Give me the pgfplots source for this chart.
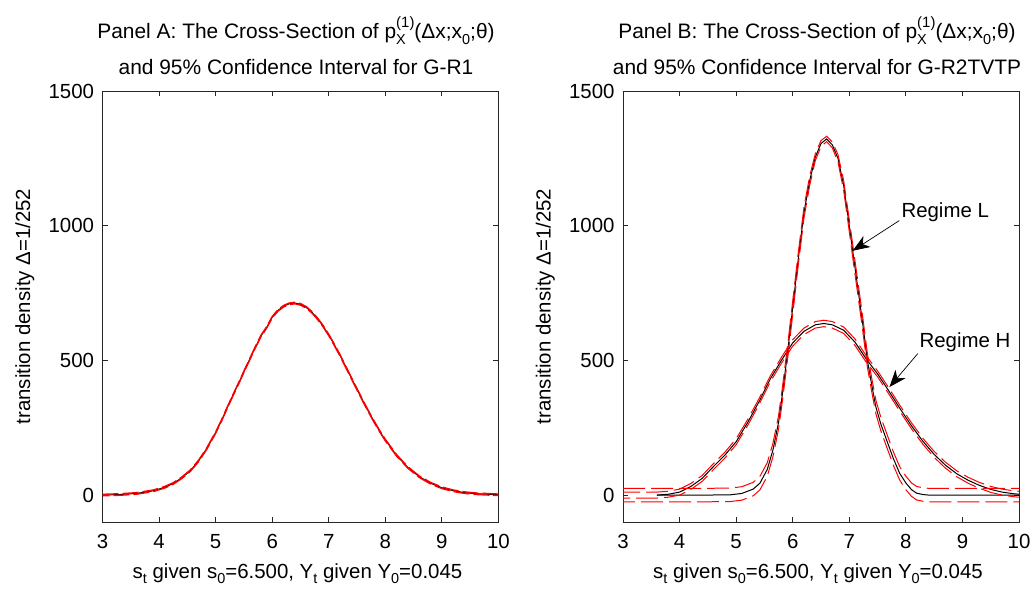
\documentclass[border=0pt]{standalone}
\usepackage{fontspec}
\setmainfont{Liberation Sans}
\usepackage{pgfplots}
\pgfplotsset{compat=1.18}
\usepackage{pgfplotstable}
\usetikzlibrary{arrows.meta}

\newcommand\fs{\fontsize{20.5}{24}\selectfont}
\newcommand\ft{\fontsize{21}{24}\selectfont}
\newcommand\sub[1]{\raisebox{-0.28em}{\fontsize{14.5}{14.5}\selectfont #1}}
\newcommand\sups[1]{\raisebox{0.55em}{\fontsize{15}{15}\selectfont #1}}

% Panel A: G-R1 mean (m) and 95% CI (u,l)
\pgfplotstableread{
x m u l
3.0 0 3 -3
3.3 2 5 -1
3.6 6 9 3
3.9 16 19 13
4.1 29 32 26
4.25 43 46 40
4.4 64 67 61
4.55 90 93 87
4.7 127 130 124
4.85 175 178 172
5.0 232 235 229
5.1 275 278 272
5.2 322 325 319
5.3 368 371 365
5.4 412 415 409
5.5 458 461 455
5.6 503 506 500
5.7 548 551 545
5.8 590 593 587
5.9 622 625 619
6.0 660 663 657
6.1 685 688 682
6.2 701 704 698
6.3 710 713 707
6.4 713 716 710
6.5 708 711 705
6.6 697 700 694
6.7 679 682 676
6.8 655 658 652
6.9 627 630 624
7.0 594 597 591
7.1 557 560 554
7.2 518 521 515
7.3 476 479 473
7.4 434 437 431
7.5 392 395 389
7.6 351 354 348
7.7 311 314 308
7.8 273 276 270
7.9 237 240 234
8.0 204 207 201
8.2 147 150 144
8.4 102 105 99
8.6 68 71 65
8.8 44 47 41
9.0 27 30 24
9.2 16 19 13
9.4 9 12 6
9.6 5 8 2
9.8 3 6 0
10.0 1 4 -2
}\tabA

% Panel B: Regime L
\pgfplotstableread{
x m u l
3.0 0 25 -25
3.6 0 25 -25
4.0 0 25 -25
4.5 0 25 -25
4.9 1 26 -24
5.1 6 31 -19
5.3 22 47 -3
5.42 44 69 19
5.55 95 120 70
5.65 167 192 142
5.75 270 295 245
5.82 378 403 353
5.92 549 574 524
6.0 696 721 671
6.1 880 903 857
6.2 1050 1070 1030
6.3 1167 1184 1150
6.4 1255 1268 1242
6.5 1305 1316 1294
6.6 1322 1332 1312
6.7 1300 1311 1289
6.8 1250 1264 1236
6.9 1150 1168 1132
7.0 1000 1022 978
7.06 907 931 883
7.15 770 795 745
7.23 648 673 623
7.32 500 525 475
7.4 405 430 380
7.47 327 352 302
7.56 262 287 237
7.66 204 229 179
7.78 135 160 110
7.89 81 106 56
8.0 45 70 20
8.1 20 45 -5
8.19 7 32 -18
8.3 2 27 -23
8.4 0 25 -25
9.0 0 25 -25
10.0 0 25 -25
}\tabL

% Panel B: Regime H
\pgfplotstableread{
x m u l
3.0 0 11 -11
3.3 0 11 -11
3.6 0 11 -11
3.8 3 14 -8
4.0 11 22 0
4.2 32 43 21
4.4 62 73 51
4.6 106 117 95
4.8 148 159 137
5.0 198 209 187
5.2 268 279 257
5.4 345 356 334
5.6 430 441 419
5.8 500 511 489
6.0 565 577 553
6.2 608 620 596
6.4 632 644 620
6.55 637 649 625
6.7 632 644 620
6.9 612 624 600
7.1 568 580 556
7.3 505 517 493
7.5 450 461 439
7.7 386 397 375
7.9 320 331 309
8.1 257 268 246
8.3 200 211 189
8.5 151 162 140
8.7 111 122 100
8.9 79 90 68
9.1 55 66 44
9.3 36 47 25
9.5 21 32 10
9.7 11 22 0
9.9 5 16 -6
10.0 3 14 -8
}\tabH

\pgfplotsset{
  panel/.style={
    scale only axis, width=396bp, height=431bp,
    anchor=south west,
    xmin=3, xmax=10, ymin=-100, ymax=1500,
    xtick={3,4,5,6,7,8,9,10}, ytick={0,500,1000,1500},
    tick align=inside, major tick length=5bp,
    axis line style={black!85, line width=0.9bp},
    every tick/.style={black!85, line width=0.9bp},
    ticklabel style={font=\fs},
    /pgf/number format/assume math mode=true,
    /pgf/number format/1000 sep={},
    xticklabel style={yshift=-9bp},
    yticklabel style={xshift=-5bp},
    label style={font=\fs},
    xlabel={s\sub{t} given s\sub{0}=6.500, Y\sub{t} given Y\sub{0}=0.045},
    xlabel style={at={(axis description cs:0.5,0)}, anchor=base, yshift=-56bp, xshift=-3bp},
    ylabel={transition density Δ=1/252},
    ylabel style={at={(axis description cs:0,0.5)}, anchor=base, yshift=72.5bp},
  },
  meanline/.style={black, line width=1bp},
  ciline/.style={red, line width=1.3bp, dash pattern=on 16bp off 4bp},
}

\begin{document}
\begin{tikzpicture}
\useasboundingbox (0bp,0bp) rectangle (1032bp,590bp);

\begin{axis}[panel, at={(102.5bp,68bp)}]
  \addplot[meanline] table[x=x,y=m] {\tabA};
  \addplot[ciline] table[x=x,y=u] {\tabA};
  \addplot[ciline, dash phase=9bp] table[x=x,y=l] {\tabA};
\end{axis}

\begin{axis}[panel, at={(623bp,68bp)}]
  \addplot[meanline, restrict x to domain=3.6:10] table[x=x,y=m] {\tabL};
  \addplot[meanline, restrict x to domain=3.6:10] table[x=x,y=m] {\tabH};
  \addplot[ciline, line width=1bp, dash pattern=on 22bp off 6bp] table[x=x,y=u] {\tabL};
  \addplot[ciline, line width=1bp, dash pattern=on 22bp off 6bp, dash phase=10bp] table[x=x,y=l] {\tabL};
  \addplot[ciline, line width=1bp, dash pattern=on 22bp off 6bp, dash phase=5bp] table[x=x,y=u] {\tabH};
  \addplot[ciline, line width=1bp, dash pattern=on 22bp off 6bp, dash phase=15bp] table[x=x,y=l] {\tabH};
  \draw[black, line width=0.7bp, -{Stealth[length=17bp,width=13bp,inset=5bp]}] (axis cs:7.885,1019) -- (axis cs:7.06,907);
  \draw[black, line width=0.7bp, -{Stealth[length=17bp,width=13bp,inset=5bp]}] (axis cs:8.21,525) -- (axis cs:7.71,401);
  \node[anchor=base west, inner sep=0pt, font=\fs] at (axis cs:7.92,1030) {Regime L};
  \node[anchor=base west, inner sep=0pt, font=\fs] at (axis cs:8.24,549) {Regime H};
\end{axis}

\node[anchor=base, font=\ft] at (296bp,551bp) {Panel A: The Cross-Section of p\rlap{\sub{X}}\sups{(1)}(Δx;x\sub{0};θ)};
\node[anchor=base, font=\ft] at (296bp,515bp) {and 95\% Confidence Interval for G-R1};
\node[anchor=base, font=\ft] at (817bp,551bp) {Panel B: The Cross-Section of p\rlap{\sub{X}}\sups{(1)}(Δx;x\sub{0};θ)};
\node[anchor=base, font=\ft] at (817bp,515bp) {and 95\% Confidence Interval for G-R2TVTP};
\end{tikzpicture}
\end{document}
